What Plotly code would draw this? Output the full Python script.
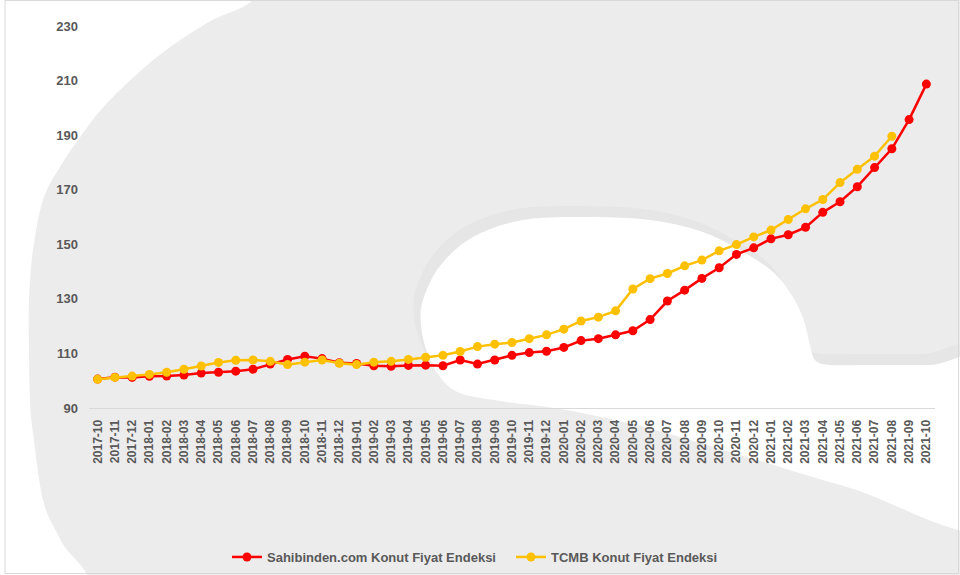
import plotly.graph_objects as go

# Monthly periods
months = [
    "2017-10", "2017-11", "2017-12",
    "2018-01", "2018-02", "2018-03", "2018-04", "2018-05", "2018-06",
    "2018-07", "2018-08", "2018-09", "2018-10", "2018-11", "2018-12",
    "2019-01", "2019-02", "2019-03", "2019-04", "2019-05", "2019-06",
    "2019-07", "2019-08", "2019-09", "2019-10", "2019-11", "2019-12",
    "2020-01", "2020-02", "2020-03", "2020-04", "2020-05", "2020-06",
    "2020-07", "2020-08", "2020-09", "2020-10", "2020-11", "2020-12",
    "2021-01", "2021-02", "2021-03", "2021-04", "2021-05", "2021-06",
    "2021-07", "2021-08", "2021-09", "2021-10",
]

# Sahibinden.com housing price index
sahibinden = [
    100.6, 101.3, 101.2,
    101.6, 101.7, 102.1, 102.8, 103.1, 103.5,
    104.2, 106.1, 107.8, 109.0, 108.1, 106.6,
    106.3, 105.5, 105.3, 105.6, 105.7, 105.5,
    107.6, 106.1, 107.6, 109.3, 110.3, 110.8,
    112.2, 114.7, 115.4, 116.8, 118.3, 122.4,
    129.2, 133.2, 137.5, 141.4, 146.3, 148.7,
    152.0, 153.5, 156.2, 161.7, 165.6, 171.1,
    178.1, 185.0, 195.7, 208.7,
]

# CBRT (TCMB) housing price index, published through 2021-08
tcmb = [
    100.5, 101.2, 101.7,
    102.3, 103.1, 104.2, 105.4, 106.7, 107.5,
    107.6, 107.1, 105.9, 106.8, 107.6, 106.4,
    105.9, 106.8, 107.1, 107.8, 108.6, 109.3,
    110.7, 112.5, 113.4, 114.0, 115.4, 116.8,
    118.9, 121.9, 123.3, 125.6, 133.6, 137.4,
    139.3, 142.1, 144.2, 147.6, 149.9, 152.7,
    155.2, 159.1, 163.0, 166.4, 172.6, 177.5,
    182.3, 189.6, None, None,
]

y_ticks = [90, 110, 130, 150, 170, 190, 210, 230]

series_names = ["Sahibinden.com Konut Fiyat Endeksi", "TCMB Konut Fiyat Endeksi"]
series_colors = ["#FF0000", "#FFC000"]

# Figure geometry (pixels)
FW, FH = 960, 575
ML, MR, MT, MB = 89, 25, 26, 167
PW, PH = FW - ML - MR, FH - MT - MB

TEXT = "#595959"
FONT = "Liberation Sans, Arial, sans-serif"
BG_GREY = "#ececec"


def px_to_paper(px, py):
    return (px - ML) / PW, (FH - MB - py) / PH


def smooth_closed_path(points):
    """Closed Catmull-Rom curve through pixel points, as an SVG path in paper units."""
    pts = [px_to_paper(x, y) for x, y in points]
    n = len(pts)
    d = "M {:.5f},{:.5f}".format(*pts[0])
    for i in range(n):
        p0, p1 = pts[i - 1], pts[i]
        p2, p3 = pts[(i + 1) % n], pts[(i + 2) % n]
        c1 = (p1[0] + (p2[0] - p0[0]) / 6, p1[1] + (p2[1] - p0[1]) / 6)
        c2 = (p2[0] - (p3[0] - p1[0]) / 6, p2[1] - (p3[1] - p1[1]) / 6)
        d += " C {:.5f},{:.5f} {:.5f},{:.5f} {:.5f},{:.5f}".format(*c1, *c2, *p2)
    return d + " Z"


# Background emblem: light grey field with a white left margin and a white opening
left_open = [
    (-40, -40), (275, -40), (253, 0), (207, 23), (157, 57), (110, 100),
    (83, 133), (60, 167), (43, 200), (33, 250), (29, 300), (29, 350),
    (30, 400), (33, 433), (43, 500), (57, 533), (67, 550), (87, 575),
    (100, 620), (-40, 620),
]
inner_open = [
    (995, 365), (930, 365), (870, 365), (830, 365), (815, 360), (810, 345),
    (803, 318), (791, 294), (773, 272), (740, 250), (700, 231), (650, 220),
    (590, 217), (523, 220), (473, 237), (440, 266), (423, 300), (421, 325),
    (427, 352), (440, 377), (460, 393), (500, 401), (560, 409), (640, 426),
    (740, 455), (850, 488), (995, 528),
]
inner_shadow = [(x - 7, y - 11) for x, y in inner_open]

bx0, by0 = px_to_paper(0, 0)
bx1, by1 = px_to_paper(FW, FH)
fx0, fy0 = px_to_paper(5, 0.5)
fx1, fy1 = px_to_paper(958.5, 573.5)

shapes = [
    dict(type="rect", xref="paper", yref="paper", x0=bx0, y0=by0, x1=bx1, y1=by1,
         fillcolor=BG_GREY, line=dict(width=0), layer="below"),
    dict(type="path", xref="paper", yref="paper", path=smooth_closed_path(left_open),
         fillcolor="#ffffff", line=dict(width=0), layer="below"),
    dict(type="path", xref="paper", yref="paper", path=smooth_closed_path(inner_shadow),
         fillcolor="#e7e6e6", line=dict(width=0), layer="below"),
    dict(type="path", xref="paper", yref="paper", path=smooth_closed_path(inner_open),
         fillcolor="#ffffff", line=dict(width=0), layer="below"),
    dict(type="rect", xref="paper", yref="paper", x0=fx0, y0=fy0, x1=fx1, y1=fy1,
         fillcolor="rgba(0,0,0,0)", line=dict(color="#d9d9d9", width=1), layer="above"),
]

fig = go.Figure()
for name, values, color in zip(series_names, [sahibinden, tcmb], series_colors):
    fig.add_trace(go.Scatter(
        x=months, y=values, name=name, mode="lines+markers",
        line=dict(color=color, width=2.5),
        marker=dict(color=color, size=9),
        connectgaps=False,
    ))

legend_x, legend_y = px_to_paper(511, 557)

fig.update_layout(
    width=FW, height=FH,
    margin=dict(l=ML, r=MR, t=MT, b=MB, pad=0, autoexpand=False),
    paper_bgcolor="#ffffff",
    plot_bgcolor="rgba(0,0,0,0)",
    shapes=shapes,
    showlegend=True,
    legend=dict(
        orientation="h", x=legend_x, y=legend_y, xanchor="center", yanchor="middle",
        font=dict(family=FONT, size=13, color=TEXT, weight="bold"),
        bgcolor="rgba(0,0,0,0)", itemwidth=30,
        entrywidth=239, entrywidthmode="pixels",
    ),
    xaxis=dict(
        type="category", range=[-0.5, len(months) - 0.5],
        tickangle=-90, showgrid=False, zeroline=False,
        showline=True, linecolor="#d9d9d9", linewidth=1,
        ticks="", ticklabelstandoff=6,
        tickfont=dict(family=FONT, size=12, color=TEXT, weight="bold"),
        fixedrange=True,
    ),
    yaxis=dict(
        range=[90, 230], tickmode="array", tickvals=y_ticks,
        ticktext=[str(v) for v in y_ticks],
        showgrid=False, zeroline=False, showline=False, ticks="",
        ticklabelstandoff=10,
        tickfont=dict(family=FONT, size=13, color=TEXT, weight="bold"),
        fixedrange=True,
    ),
)

fig.write_html("out.html")
